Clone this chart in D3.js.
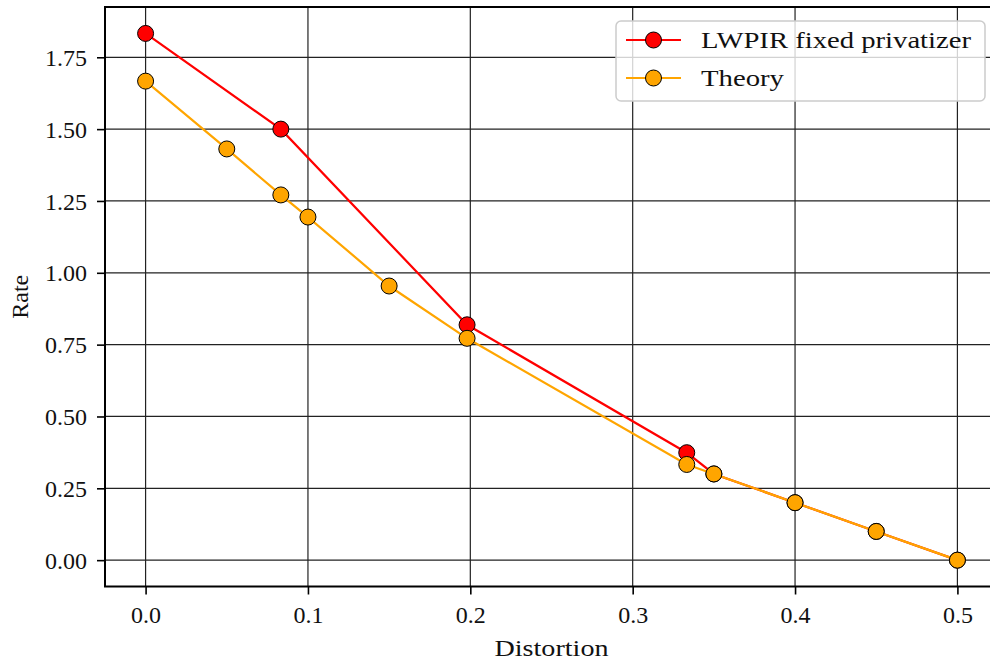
<!DOCTYPE html>
<html>
<head>
<meta charset="utf-8">
<script src="https://cdn.jsdelivr.net/npm/d3@7"></script>
<style>
  html, body { margin: 0; padding: 0; background: #fff; overflow: hidden; }
  svg { display: block; font-family: "Liberation Serif", "DejaVu Serif", serif; }
</style>
</head>
<body>
<svg id="chart" width="990" height="661"></svg>
<script>
// distortion / rate values
const lwpirX = [0, 0.0833, 0.198, 0.3333, 0.35, 0.4, 0.45, 0.5];
const lwpirY = [1.833, 1.5, 0.819, 0.374, 0.3, 0.2, 0.1, 0];
const theoryX = [0, 0.05, 0.0833, 0.1, 0.15, 0.198, 0.3333, 0.35, 0.4, 0.45, 0.5];
const theoryY = [1.667, 1.431, 1.271, 1.194, 0.954, 0.772, 0.333, 0.3, 0.2, 0.1, 0];
const xTicks = [0, 0.1, 0.2, 0.3, 0.4, 0.5];
const yTicks = [0, 0.25, 0.5, 0.75, 1.0, 1.25, 1.5, 1.75];
const seriesNames = ["LWPIR fixed privatizer", "Theory"];
const seriesColors = ["#ff0000", "#ffa500"];

const svg = d3.select('#chart');
const pLeft = 105, pRight = 998, pTop = 7, pBottom = 586.5;

const x = d3.scaleLinear().domain([-0.025, 0.525]).range([pLeft, pRight]);
const y = d3.scaleLinear().domain([-0.0917, 1.925]).range([pBottom, pTop]);

// clip for plot contents
svg.append('defs').append('clipPath').attr('id', 'plotclip')
  .append('rect').attr('x', pLeft).attr('y', pTop).attr('width', pRight - pLeft).attr('height', pBottom - pTop);

// grid
const grid = svg.append('g').attr('clip-path', 'url(#plotclip)');
grid.selectAll('.gx').data(xTicks).enter().append('line')
  .attr('x1', d => x(d)).attr('x2', d => x(d)).attr('y1', pTop).attr('y2', pBottom)
  .attr('stroke', '#222').attr('stroke-width', 1.2);
grid.selectAll('.gy').data(yTicks).enter().append('line')
  .attr('y1', d => y(d)).attr('y2', d => y(d)).attr('x1', pLeft).attr('x2', pRight)
  .attr('stroke', '#222').attr('stroke-width', 1.2);

// axes
const xAxis = d3.axisBottom(x).tickValues(xTicks).tickFormat(d3.format('.1f')).tickSize(8).tickPadding(10);
const yAxis = d3.axisLeft(y).tickValues(yTicks).tickFormat(d3.format('.2f')).tickSize(8).tickPadding(10);

const gx = svg.append('g').attr('transform', `translate(0,${pBottom})`).call(xAxis);
const gy = svg.append('g').attr('transform', `translate(${pLeft},0)`).call(yAxis);
[gx, gy].forEach(g => {
  g.select('.domain').remove();
  g.selectAll('.tick line').attr('stroke', '#000').attr('stroke-width', 1.6);
  g.selectAll('.tick text').attr('fill', '#111').style('font-size', '24px')
    .style('font-family', '"Liberation Serif", serif');
});
gx.selectAll('.tick text').attr('dy', '0.78em');
gy.selectAll('.tick text').attr('dy', '0.34em');

// series
const line = d3.line().x(d => x(d[0])).y(d => y(d[1]));
const series = [
  d3.zip(lwpirX, lwpirY),
  d3.zip(theoryX, theoryY)
];
const plot = svg.append('g');
series.forEach((pts, i) => {
  const g = plot.append('g');
  g.append('path').datum(pts).attr('d', line)
    .attr('fill', 'none').attr('stroke', seriesColors[i]).attr('stroke-width', 2.2);
  g.selectAll('circle').data(pts).enter().append('circle')
    .attr('cx', d => x(d[0])).attr('cy', d => y(d[1])).attr('r', 8)
    .attr('fill', seriesColors[i]).attr('stroke', '#000').attr('stroke-width', 1);
});

// spines
svg.append('rect').attr('x', pLeft).attr('y', pTop).attr('width', pRight - pLeft).attr('height', pBottom - pTop)
  .attr('fill', 'none').attr('stroke', '#000').attr('stroke-width', 2);

// axis labels
svg.append('text').attr('x', (pLeft + pRight) / 2).attr('y', 656)
  .attr('text-anchor', 'middle').style('font-size', '24px').attr('fill', '#111')
  .attr('textLength', 114).attr('lengthAdjust', 'spacingAndGlyphs')
  .text('Distortion');
svg.append('text').attr('transform', `translate(28,${(pTop + pBottom) / 2}) rotate(-90)`)
  .attr('text-anchor', 'middle').style('font-size', '24px').attr('fill', '#111')
  .text('Rate');

// legend
const lg = svg.append('g');
lg.append('rect').attr('x', 616).attr('y', 21).attr('width', 369).attr('height', 80).attr('rx', 5)
  .attr('fill', 'rgba(255,255,255,0.8)').attr('stroke', '#cccccc').attr('stroke-width', 1.5);
seriesNames.forEach((name, i) => {
  const cy = 40 + i * 38;
  lg.append('line').attr('x1', 626).attr('x2', 681).attr('y1', cy).attr('y2', cy)
    .attr('stroke', seriesColors[i]).attr('stroke-width', 2.2);
  lg.append('circle').attr('cx', 653.5).attr('cy', cy).attr('r', 8)
    .attr('fill', seriesColors[i]).attr('stroke', '#000').attr('stroke-width', 1);
  const t = lg.append('text').attr('x', 701).attr('y', cy + 8).style('font-size', '24px')
    .attr('fill', '#111').text(name);
  t.attr('textLength', i === 0 ? 270 : 83).attr('lengthAdjust', 'spacingAndGlyphs');
});
</script>
</body>
</html>
